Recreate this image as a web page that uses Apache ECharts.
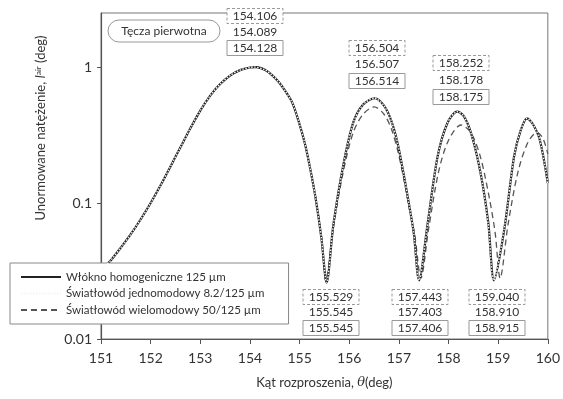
<!DOCTYPE html>
<html>
<head>
<meta charset="utf-8">
<script src="https://cdn.jsdelivr.net/npm/echarts@6/dist/echarts.min.js"></script>
<style>
  html, body { margin: 0; padding: 0; background: #fff; }
  #chart { width: 563px; height: 399px; }
</style>
</head>
<body>
<div id="chart"></div>
<script>
var chart = echarts.init(document.getElementById('chart'));

// serie names
var names = ['Włókno homogeniczne 125 µm', 'Światłowód jednomodowy 8.2/125 µm', 'Światłowód wielomodowy 50/125 µm'];

// włókno homogeniczne
var homAngle = [151.0, 151.2, 151.4, 151.6, 151.8, 152.0, 152.2, 152.4, 152.6, 152.8, 153.0, 153.2, 153.4, 153.6, 153.8, 154.0, 154.128, 154.3, 154.45, 154.58, 154.7, 154.85, 154.98, 155.1, 155.2, 155.32, 155.44, 155.545,
    155.68, 155.88, 156.08, 156.28, 156.514, 156.7, 156.85, 156.98, 157.1, 157.2, 157.3, 157.406,
    157.58, 157.78, 157.98, 158.175, 158.3, 158.45, 158.64, 158.8, 158.915,
    159.12, 159.32, 159.45, 159.58, 159.7, 159.84, 160.0];
var homVal = [0.032, 0.038, 0.047, 0.059, 0.076, 0.10, 0.135, 0.186, 0.257, 0.355, 0.479, 0.617, 0.75, 0.867, 0.95, 0.993, 1.0, 0.955, 0.87, 0.776, 0.676, 0.55, 0.40, 0.28, 0.19, 0.11, 0.055, 0.026,
    0.069, 0.19, 0.39, 0.53, 0.59, 0.52, 0.4, 0.27, 0.16, 0.1, 0.06, 0.027,
    0.071, 0.22, 0.39, 0.47, 0.44, 0.33, 0.17, 0.072, 0.027,
    0.063, 0.22, 0.34, 0.42, 0.38, 0.29, 0.14];

// światłowód jednomodowy
var smAngle = [151.0, 151.2, 151.4, 151.6, 151.8, 152.0, 152.2, 152.4, 152.6, 152.8, 153.0, 153.2, 153.4, 153.6, 153.8, 154.0, 154.089, 154.3, 154.45, 154.58, 154.7, 154.85, 154.98, 155.1, 155.2, 155.32, 155.44, 155.545,
    155.68, 155.88, 156.08, 156.28, 156.507, 156.7, 156.85, 156.98, 157.1, 157.2, 157.3, 157.403,
    157.58, 157.78, 157.98, 158.178, 158.3, 158.45, 158.64, 158.8, 158.910,
    159.12, 159.32, 159.45, 159.58, 159.7, 159.84, 160.0];
var smVal = [0.032, 0.038, 0.047, 0.059, 0.076, 0.10, 0.135, 0.186, 0.257, 0.355, 0.479, 0.617, 0.75, 0.867, 0.95, 0.995, 1.0, 0.955, 0.87, 0.776, 0.676, 0.55, 0.40, 0.28, 0.19, 0.11, 0.055, 0.026,
    0.069, 0.19, 0.39, 0.53, 0.59, 0.52, 0.4, 0.27, 0.16, 0.1, 0.06, 0.027,
    0.071, 0.22, 0.39, 0.47, 0.44, 0.33, 0.17, 0.07, 0.027,
    0.064, 0.22, 0.34, 0.42, 0.38, 0.29, 0.14];

// światłowód wielomodowy
var mmAngle = [151.0, 151.2, 151.4, 151.6, 151.8, 152.0, 152.2, 152.4, 152.6, 152.8, 153.0, 153.2, 153.4, 153.6, 153.8, 154.0, 154.106, 154.3, 154.45, 154.58, 154.7, 154.85, 154.98, 155.1, 155.2, 155.32, 155.44, 155.529,
    155.68, 155.88, 156.08, 156.28, 156.504, 156.7, 156.85, 156.98, 157.1, 157.2, 157.32, 157.443,
    157.6, 157.8, 158.0, 158.252, 158.45, 158.64, 158.82, 158.94, 159.04,
    159.2, 159.4, 159.6, 159.78, 159.9, 160.0];
var mmVal = [0.032, 0.038, 0.047, 0.059, 0.076, 0.10, 0.135, 0.186, 0.257, 0.355, 0.479, 0.617, 0.75, 0.867, 0.95, 0.994, 1.0, 0.955, 0.87, 0.776, 0.676, 0.55, 0.40, 0.28, 0.19, 0.112, 0.057, 0.027,
    0.066, 0.17, 0.33, 0.45, 0.51, 0.45, 0.35, 0.24, 0.15, 0.095, 0.058, 0.028,
    0.065, 0.17, 0.29, 0.375, 0.33, 0.22, 0.11, 0.06, 0.028,
    0.07, 0.17, 0.28, 0.33, 0.3, 0.23];

// odczyty maksimów i minimów (wielomodowy, jednomodowy, homogeniczny)
var peakLabels = [
    ['154.106', '154.089', '154.128'],
    ['156.504', '156.507', '156.514'],
    ['158.252', '158.178', '158.175']
];
var minLabels = [
    ['155.529', '155.545', '155.545'],
    ['157.443', '157.403', '157.406'],
    ['159.040', '158.910', '158.915']
];

var font = 'Lato, "Open Sans", sans-serif';

function pairs(xs, ys) {
    return xs.map(function (x, i) { return [x, ys[i]]; });
}

// label boxes: [center x, first row center y, row step]
var peakPos = [[255, 16, 16], [377, 48, 16.5], [461, 63, 17]];
var minPos = [[331, 297, 15.5], [420, 297, 15.5], [497, 297, 15.5]];
var boxW = 56, boxH = 15;

var graphics = [];
function addGroup(texts, pos) {
    texts.forEach(function (t, i) {
        var cy = pos[1] + i * pos[2];
        if (i !== 1) {
            graphics.push({
                type: 'rect',
                shape: { x: pos[0] - boxW / 2, y: cy - boxH / 2, width: boxW, height: boxH },
                style: { fill: '#fff', stroke: '#999', lineWidth: 1, lineDash: i === 0 ? [3, 2] : null },
                z: 10
            });
        }
        graphics.push({
            type: 'text',
            x: pos[0], y: cy,
            style: { text: t, font: '12px ' + font, fill: '#333', align: 'center', verticalAlign: 'middle' },
            z: 11
        });
    });
}
peakLabels.forEach(function (g, i) { addGroup(g, peakPos[i]); });
minLabels.forEach(function (g, i) { addGroup(g, minPos[i]); });

// Tęcza pierwotna
graphics.push({
    type: 'rect',
    shape: { x: 108, y: 20, width: 112, height: 22, r: 11 },
    style: { fill: '#fff', stroke: '#999', lineWidth: 1 },
    z: 10
});
graphics.push({
    type: 'text', x: 164, y: 31,
    style: { text: 'Tęcza pierwotna', font: '12px ' + font, fill: '#333', align: 'center', verticalAlign: 'middle' },
    z: 11
});

// y title
graphics.push({
    type: 'text', x: 41, y: 128, rotation: Math.PI / 2,
    style: {
        text: 'Unormowane natężenie, {i|I}{sup|air} (deg)',
        font: '13px ' + font, fill: '#333', align: 'center', verticalAlign: 'middle',
        rich: {
            i: { fontStyle: 'italic', fontSize: 13, fontFamily: font, fill: '#333' },
            sup: { fontSize: 8, fontFamily: font, fill: '#333', verticalAlign: 'top', padding: [0, 0, 6, 0] }
        }
    }
});

option = {
    backgroundColor: '#fff',
    animation: false,
    grid: {
        left: 101, right: 12, top: 13, bottom: 60,
        show: true, borderColor: '#777', borderWidth: 1
    },
    legend: {
        orient: 'vertical',
        left: 10, top: 263,
        padding: [8, 24, 8, 10],
        itemWidth: 40, itemHeight: 10, itemGap: 4.5,
        backgroundColor: '#fff',
        borderColor: '#888', borderWidth: 1,
        itemStyle: { opacity: 0 },
        textStyle: { fontFamily: font, fontSize: 11.5, color: '#333' },
        data: names
    },
    xAxis: {
        type: 'value', min: 151, max: 160, interval: 1,
        name: 'Kąt rozproszenia, {i|θ}(deg)',
        nameLocation: 'middle', nameGap: 37,
        nameTextStyle: {
            fontFamily: font, fontSize: 13, color: '#333',
            rich: { i: { fontStyle: 'italic', fontFamily: 'DejaVu Serif', fontSize: 13, color: '#333' } }
        },
        axisLine: { lineStyle: { color: '#555', width: 1.2 } },
        axisTick: { inside: false, length: 5, lineStyle: { color: '#555' } },
        axisLabel: { fontFamily: font, fontSize: 14, color: '#333', margin: 12 },
        splitLine: { show: false }
    },
    yAxis: {
        type: 'log', min: 0.01, max: 2.5, logBase: 10,
        axisLine: { show: true, lineStyle: { color: '#555', width: 1.2 } },
        axisTick: { show: true, length: 4, customValues: [0.01, 0.1, 1], lineStyle: { color: '#555' } },
        axisLabel: {
            fontFamily: font, fontSize: 14, color: '#333', margin: 9,
            customValues: [0.01, 0.1, 1],
            formatter: function (v) { return [0.01, 0.1, 1].indexOf(+v.toPrecision(3)) >= 0 ? String(+v.toPrecision(3)) : ''; }
        },
        splitLine: { show: false },
        minorTick: { show: false }
    },
    graphic: graphics,
    series: [{
        name: names[2],
        type: 'line',
        data: pairs(mmAngle, mmVal),
        smooth: 0.3, showSymbol: false, symbol: 'none',
        color: '#555',
        lineStyle: { color: '#555', width: 1.3, type: [6, 4] },
        z: 2
    }, {
        name: names[0],
        type: 'line',
        data: pairs(homAngle, homVal),
        smooth: 0.3, showSymbol: false, symbol: 'none',
        color: '#222',
        lineStyle: { color: '#222', width: 2.2 },
        z: 3
    }, {
        name: names[1],
        type: 'line',
        data: pairs(smAngle, smVal),
        smooth: 0.3, showSymbol: false, symbol: 'none',
        color: '#e0e0e0',
        lineStyle: { color: '#f4f4f4', width: 1.4, type: [1.5, 1.5] },
        z: 4
    }]
};
chart.setOption(option);
</script>
</body>
</html>
